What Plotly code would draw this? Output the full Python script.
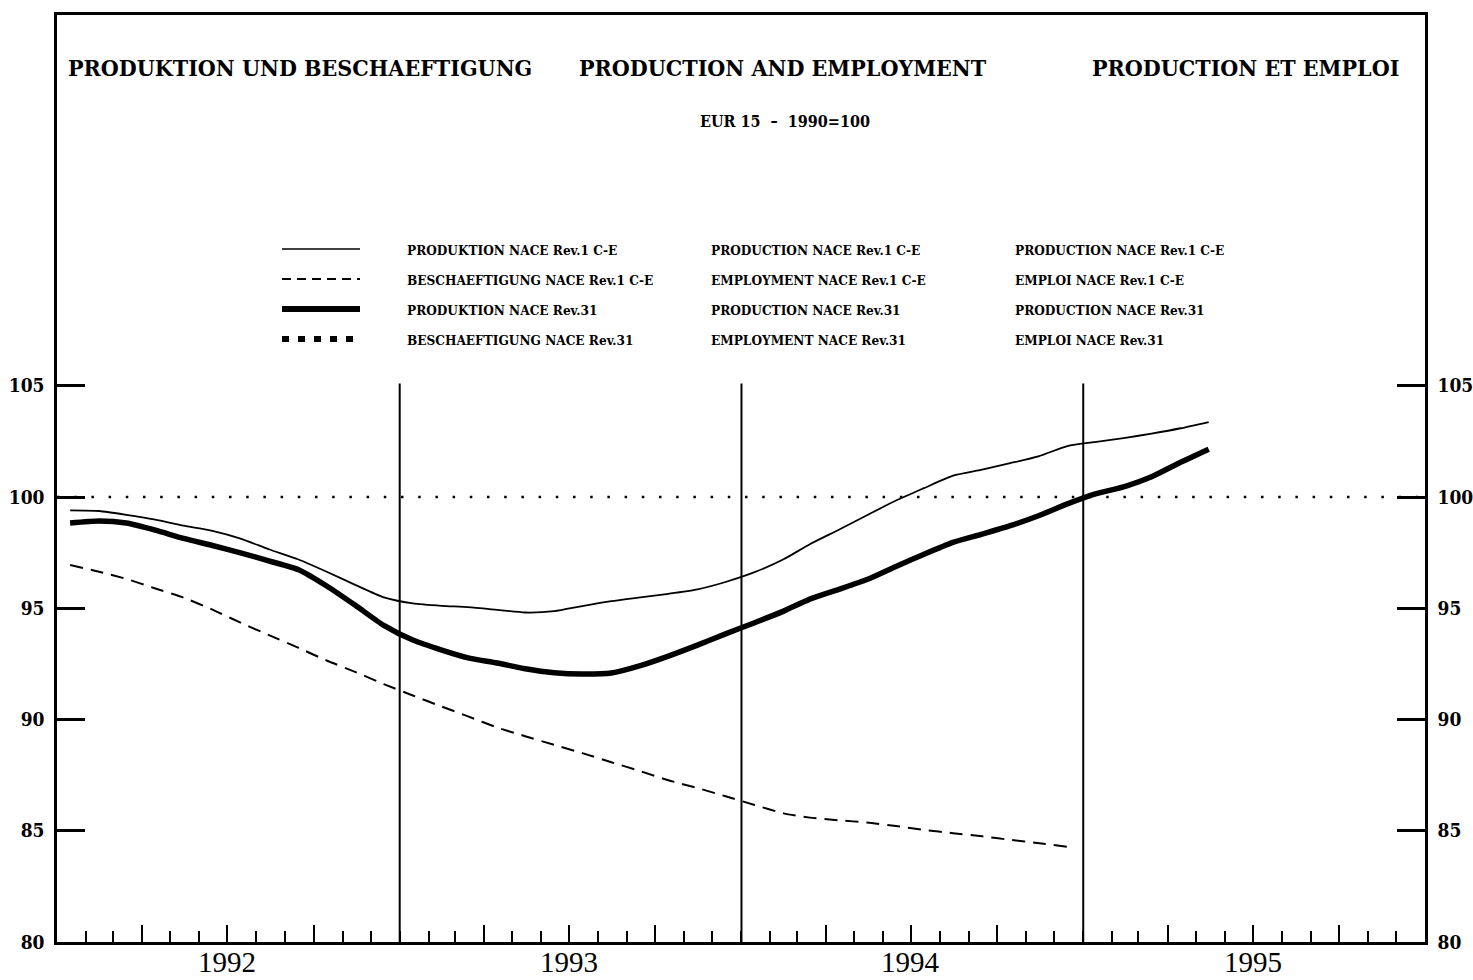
import pandas as pd
import plotly.graph_objects as go

# monthly observations, Jan 1992 onwards (index 1990=100)
months = pd.date_range("1992-01-01", "1995-05-01", freq="MS") + pd.Timedelta(days=14)

prod_rev1 = [99.40, 99.37, 99.20, 98.98, 98.71, 98.48, 98.13, 97.64, 97.19, 96.64,
             96.04, 95.49, 95.22, 95.11, 95.05, 94.93, 94.81, 94.87, 95.10, 95.32,
             95.49, 95.65, 95.85, 96.18, 96.62, 97.20, 97.88, 98.53, 99.18, 99.84,
             100.40, 100.96, 101.23, 101.52, 101.84, 102.29, 102.48, 102.66, 102.85,
             103.09, 103.37]

empl_rev1 = [96.94, 96.64, 96.32, 95.89, 95.48, 94.94, 94.35, 93.78, 93.22, 92.65,
             92.13, 91.59, 91.08, 90.58, 90.14, 89.64, 89.25, 88.86, 88.49, 88.08,
             87.68, 87.27, 86.92, 86.55, 86.16, 85.78, 85.59, 85.47, 85.37, 85.21,
             85.04, 84.89, 84.75, 84.59, 84.44, 84.28]

prod_rev31 = [98.83, 98.92, 98.83, 98.51, 98.14, 97.82, 97.49, 97.12, 96.73, 96.00,
              95.12, 94.23, 93.57, 93.12, 92.77, 92.54, 92.28, 92.10, 92.04, 92.09,
              92.42, 92.85, 93.34, 93.85, 94.35, 94.87, 95.41, 95.85, 96.29, 96.88,
              97.43, 97.96, 98.33, 98.71, 99.17, 99.69, 100.15, 100.48, 100.91,
              101.56, 102.15]

years = ["1992", "1993", "1994", "1995"]
year_mids = ["1992-07-01", "1993-07-01", "1994-07-01", "1995-07-01"]
year_starts = ["1993-01-01", "1994-01-01", "1995-01-01"]
y_ticks = [80, 85, 90, 95, 100, 105]

legend_de = ["PRODUKTION NACE Rev.1 C-E", "BESCHAEFTIGUNG NACE Rev.1 C-E",
             "PRODUKTION NACE Rev.31", "BESCHAEFTIGUNG NACE Rev.31"]
legend_en = ["PRODUCTION NACE Rev.1 C-E", "EMPLOYMENT NACE Rev.1 C-E",
             "PRODUCTION NACE Rev.31", "EMPLOYMENT NACE Rev.31"]
legend_fr = ["PRODUCTION NACE Rev.1 C-E", "EMPLOI NACE Rev.1 C-E",
             "PRODUCTION NACE Rev.31", "EMPLOI NACE Rev.31"]

# figure geometry (pixels)
W, H = 1473, 980
L, R, T, B = 57, 1425, 15, 942


def px(x):
    return (x - L) / (R - L)


def py(y):
    return (B - y) / (B - T)


SERIF = "Liberation Serif"
HEAVY = "DejaVu Serif Condensed"

fig = go.Figure()
fig.add_trace(go.Scatter(x=months[:len(prod_rev1)], y=prod_rev1, mode="lines",
                         line=dict(color="black", width=1.8, shape="spline", smoothing=0.6),
                         name=legend_en[0]))
fig.add_trace(go.Scatter(x=months[:len(empl_rev1)], y=empl_rev1, mode="lines", yaxis="y2",
                         line=dict(color="black", width=2, dash="13px,8px",
                                   shape="spline", smoothing=0.6),
                         name=legend_en[1]))
fig.add_trace(go.Scatter(x=months[:len(prod_rev31)], y=prod_rev31, mode="lines",
                         line=dict(color="black", width=5.5, shape="spline", smoothing=0.6),
                         name=legend_en[2]))

shapes = []
# 1990=100 reference line
shapes.append(dict(type="line", xref="paper", yref="y", x0=0, x1=1, y0=100, y1=100,
                   line=dict(color="black", width=2.5, dash="2.5px,14.7px")))
# year separators
for d in year_starts:
    shapes.append(dict(type="line", xref="x", yref="y", x0=d, x1=d, y0=80, y1=105.1,
                       line=dict(color="black", width=2)))

# legend samples
leg_rows = [249, 279, 309, 339]
leg_styles = [dict(width=1.5), dict(width=2, dash="9px,6px"),
              dict(width=6), dict(width=6, dash="7px,9px")]
annotations = []
for i, yy in enumerate(leg_rows):
    shapes.append(dict(type="line", xref="paper", yref="paper", x0=px(282), x1=px(360),
                       y0=py(yy), y1=py(yy), line=dict(color="black", **leg_styles[i])))
    for col_x, labels in ((405, legend_de), (709, legend_en), (1013, legend_fr)):
        annotations.append(dict(xref="paper", yref="paper", x=px(col_x), y=py(yy + 1),
                                xanchor="left", yanchor="middle", showarrow=False,
                                text="<b>" + labels[i] + "</b>",
                                font=dict(family=HEAVY, size=13.5, color="black")))

titles = [("PRODUKTION UND BESCHAEFTIGUNG", 66), ("PRODUCTION AND EMPLOYMENT", 577),
          ("PRODUCTION ET EMPLOI", 1090)]
for txt, xx in titles:
    annotations.append(dict(xref="paper", yref="paper", x=px(xx), y=py(67),
                            xanchor="left", yanchor="middle", showarrow=False,
                            text="<b>" + txt + "</b>",
                            font=dict(family=HEAVY, size=23, color="black")))
annotations.append(dict(xref="paper", yref="paper", x=px(785), y=py(121),
                        xanchor="center", yanchor="middle", showarrow=False,
                        text="<b>EUR 15  \u2013  1990=100</b>",
                        font=dict(family=HEAVY, size=16, color="black")))
# year labels under each year span
for yr, mid in zip(years, year_mids):
    annotations.append(dict(xref="x", yref="paper", x=mid, y=py(962),
                            xanchor="center", yanchor="middle", showarrow=False,
                            text=yr, font=dict(family=SERIF, size=29, color="black")))

y_range = [80, 80 + (B - T) / 22.25]
yaxis_common = dict(range=y_range, tickvals=y_ticks, ticks="inside", ticklen=28,
                    tickwidth=2.5, tickcolor="black", showline=True, linewidth=2.5,
                    linecolor="black", showgrid=False, zeroline=False, automargin=False,
                    ticklabelstandoff=6,
                    tickfont=dict(family=HEAVY, size=19, color="black", weight="bold"))

quarter_ticks = [f"{yr}-{mo}-01" for yr in years for mo in ("04", "07", "10")]

fig.update_layout(
    width=W, height=H, autosize=False, template="none",
    margin=dict(l=L, r=W - R, t=T, b=H - B),
    paper_bgcolor="white", plot_bgcolor="white",
    showlegend=False,
    xaxis=dict(type="date", range=["1992-01-01", "1996-01-01"],
               tickvals=quarter_ticks, showticklabels=False,
               ticks="inside", ticklen=17, tickwidth=2, tickcolor="black",
               minor=dict(tickmode="linear", tick0="1992-01-01", dtick="M1",
                          ticks="inside", ticklen=11, tickwidth=2, tickcolor="black",
                          showgrid=False),
               showline=True, linewidth=2.5, linecolor="black", mirror=True,
               showgrid=False, zeroline=False, automargin=False),
    yaxis=dict(side="left", **yaxis_common),
    yaxis2=dict(side="right", overlaying="y", anchor="x", **yaxis_common),
    shapes=shapes,
    annotations=annotations,
)

fig.write_html("out.html", config={"displayModeBar": False},
               post_script="document.body.style.margin='0';")
